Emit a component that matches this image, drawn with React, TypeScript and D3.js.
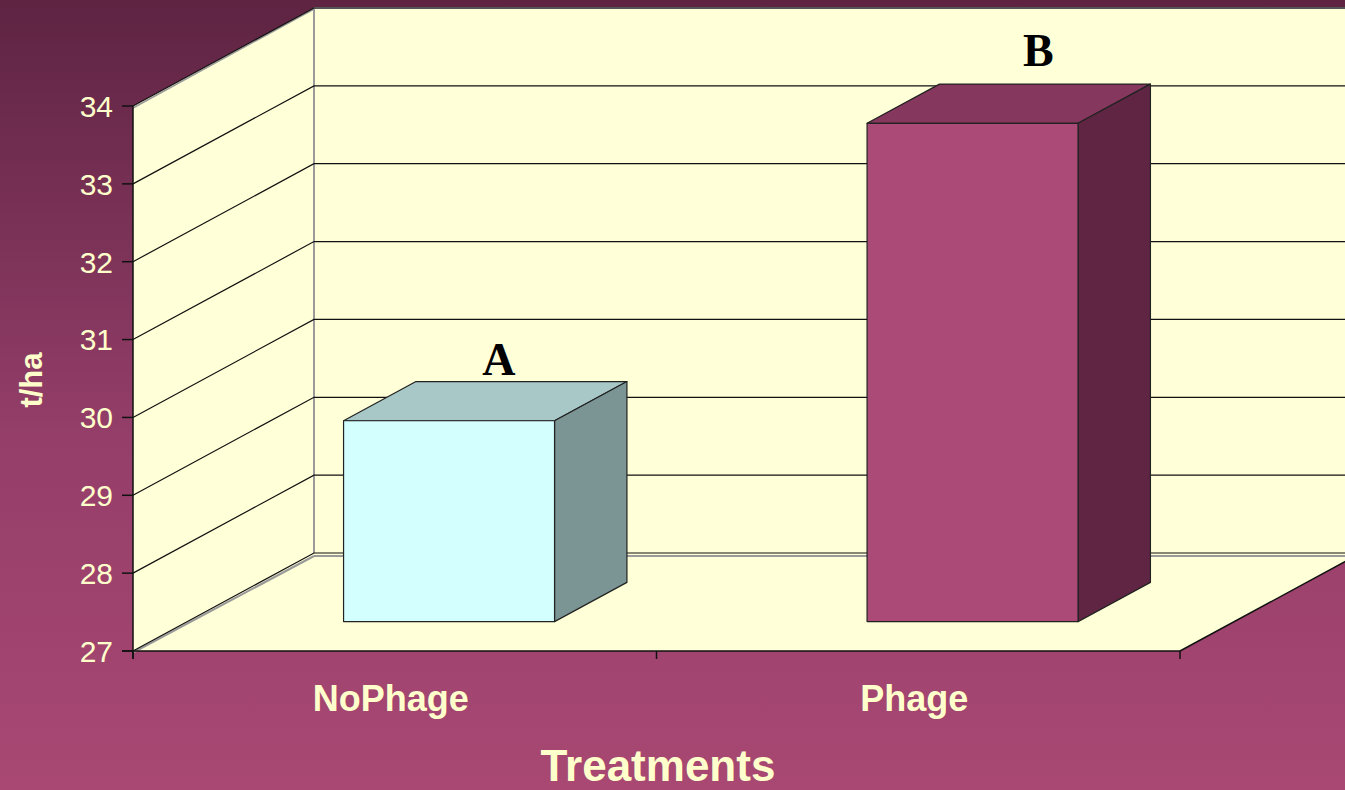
import { useRef, useEffect } from 'react';
import * as d3 from 'd3';

const CATEGORIES = ['NoPhage', 'Phage'];
const VALUES = [29.58, 33.4];
const LETTERS = ['A', 'B'];
const Y_TICKS = [27, 28, 29, 30, 31, 32, 33, 34];

const FRONT = ['#d4ffff', '#ab4a77'];
const TOP = ['#a8c8c8', '#86375e'];
const SIDE = ['#7b9595', '#612544'];

export default function App() {
  const ref = useRef<SVGSVGElement>(null);

  useEffect(() => {
    const svg = ref.current;
    if (!svg) return;
    const W = 1345, H = 790;
    const x0 = 133, x1 = 1180, yBase = 651, yTop = 106;
    const DX = 181, DY = -98; // depth vector
    const z0 = 0.3, z1 = 0.7;

    d3.select(svg).selectAll('*').remove();
    const root = d3.select(svg).attr('width', W).attr('height', H).attr('viewBox', `0 0 ${W} ${H}`);

    const defs = root.append('defs');
    const grad = defs.append('linearGradient').attr('id', 'bg').attr('x1', 0).attr('y1', 0).attr('x2', 0).attr('y2', 1);
    grad.append('stop').attr('offset', '0%').attr('stop-color', '#5e2442');
    grad.append('stop').attr('offset', '55%').attr('stop-color', '#943e69');
    grad.append('stop').attr('offset', '100%').attr('stop-color', '#a84873');

    root.append('rect').attr('width', W).attr('height', H).attr('fill', 'url(#bg)');
    const g = root.append('g');

    const y = d3.scaleLinear().domain([27, 34]).range([yBase, yTop]);
    const x = d3.scaleBand().domain(CATEGORIES).range([x0, x1]);
    const P = (px: number, py: number, z: number) => [px + DX * z, py + DY * z];
    const poly = (pts: number[][]) => 'M' + pts.map((p) => p.join(',')).join('L') + 'Z';
    const wall = '#ffffd8';

    // walls and floor
    g.append('path').attr('d', poly([P(x0, y(27), 0), P(x0, y(34), 0), P(x0, y(34), 1), P(x0, y(27), 1)])).attr('fill', wall);
    g.append('path').attr('d', poly([P(x0, y(27), 1), P(x0, y(34), 1), P(x1, y(34), 1), P(x1, y(27), 1)])).attr('fill', wall);
    g.append('path').attr('d', poly([P(x0, y(27), 0), P(x1, y(27), 0), P(x1, y(27), 1), P(x0, y(27), 1)])).attr('fill', wall);

    // gray wall edges
    const gray = '#9a9a9a';
    const bl = P(x0, y(27), 1), tl = P(x0, y(34), 1), tr = P(x1 + 200, y(34), 1);
    g.append('line').attr('x1', bl[0]).attr('y1', bl[1]).attr('x2', tl[0]).attr('y2', tl[1]).attr('stroke', gray).attr('stroke-width', 2);
    g.append('line').attr('x1', tl[0]).attr('y1', tl[1]).attr('x2', tr[0]).attr('y2', tr[1]).attr('stroke', gray).attr('stroke-width', 2);
    g.append('line').attr('x1', bl[0]).attr('y1', bl[1] + 3).attr('x2', W).attr('y2', bl[1] + 3).attr('stroke', gray).attr('stroke-width', 2);
    g.append('line').attr('x1', x0 + 1).attr('y1', y(27) + 1).attr('x2', bl[0]).attr('y2', bl[1] + 3).attr('stroke', gray).attr('stroke-width', 2);
    g.append('line').attr('x1', x0).attr('y1', y(34) + 2).attr('x2', tl[0]).attr('y2', tl[1] + 1).attr('stroke', gray).attr('stroke-width', 1.5);

    // gridlines + y ticks
    Y_TICKS.forEach((v) => {
      const a = P(x0, y(v), 0), b = P(x0, y(v), 1), c = P(x1 + 200, y(v), 1);
      g.append('path').attr('d', `M${a}L${b}L${c}`).attr('fill', 'none').attr('stroke', '#111').attr('stroke-width', 1.2);
      g.append('line').attr('x1', x0 - 11).attr('y1', y(v)).attr('x2', x0).attr('y2', y(v)).attr('stroke', '#111').attr('stroke-width', 1.5);
      g.append('text').attr('x', x0 - 20).attr('y', y(v)).attr('dy', '0.36em').attr('text-anchor', 'end')
        .attr('font-family', 'Liberation Sans, Arial, sans-serif').attr('font-size', 30).attr('fill', '#ffffcc').text(v);
    });

    // axes
    g.append('line').attr('x1', x0).attr('y1', y(34)).attr('x2', x0).attr('y2', y(27) + 8).attr('stroke', '#111').attr('stroke-width', 1.5);
    g.append('line').attr('x1', x0 - 11).attr('y1', y(27)).attr('x2', x1).attr('y2', y(27)).attr('stroke', '#111').attr('stroke-width', 1.5);
    const fr = P(x1, y(27), 0), br = P(x1, y(27), 1);
    g.append('line').attr('x1', fr[0]).attr('y1', fr[1]).attr('x2', br[0]).attr('y2', br[1]).attr('stroke', '#111').attr('stroke-width', 1.5);
    [...CATEGORIES.map((c) => x(c)!), x1].forEach((t) => {
      g.append('line').attr('x1', t).attr('y1', y(27)).attr('x2', t).attr('y2', y(27) + 8).attr('stroke', '#111').attr('stroke-width', 1.5);
    });

    // bars
    const bw = x.bandwidth() * 0.403;
    CATEGORIES.forEach((c, i) => {
      const cx = x(c)! + x.bandwidth() / 2;
      const l = cx - bw / 2, r = cx + bw / 2;
      const yt = y(VALUES[i]), yb = y(27);
      const stroke = '#222';
      g.append('path').attr('d', poly([P(l, yt, z0), P(r, yt, z0), P(r, yt, z1), P(l, yt, z1)]))
        .attr('fill', TOP[i]).attr('stroke', stroke).attr('stroke-width', 1.2).attr('stroke-linejoin', 'round');
      g.append('path').attr('d', poly([P(r, yb, z0), P(r, yt, z0), P(r, yt, z1), P(r, yb, z1)]))
        .attr('fill', SIDE[i]).attr('stroke', stroke).attr('stroke-width', 1.2).attr('stroke-linejoin', 'round');
      g.append('path').attr('d', poly([P(l, yb, z0), P(l, yt, z0), P(r, yt, z0), P(r, yb, z0)]))
        .attr('fill', FRONT[i]).attr('stroke', stroke).attr('stroke-width', 1.2).attr('stroke-linejoin', 'round');

      // significance letter above the bar
      const ft = P(cx, yt, z0);
      const lift = (VALUES[i] - 27) * 2;
      g.append('text').attr('x', ft[0] + 39 + lift * 2.1).attr('y', ft[1] - 38.6 - lift * 1.44).attr('text-anchor', 'middle')
        .attr('font-family', 'Liberation Serif, Times New Roman, serif').attr('font-weight', 'bold').attr('font-size', 46)
        .attr('fill', '#000').text(LETTERS[i]);

      g.append('text').attr('x', cx - 4).attr('y', 711).attr('text-anchor', 'middle')
        .attr('font-family', 'Liberation Sans, Arial, sans-serif').attr('font-weight', 'bold').attr('font-size', 36)
        .attr('fill', '#ffffcc').text(c);
    });

    g.append('text').attr('x', 658).attr('y', 781).attr('text-anchor', 'middle')
      .attr('font-family', 'Liberation Sans, Arial, sans-serif').attr('font-weight', 'bold').attr('font-size', 44)
      .attr('fill', '#ffffcc').text('Treatments');

    g.append('text').attr('transform', 'translate(42,380) rotate(-90)').attr('text-anchor', 'middle')
      .attr('font-family', 'Liberation Sans, Arial, sans-serif').attr('font-weight', 'bold').attr('font-size', 31)
      .attr('fill', '#ffffcc').text('t/ha');
  }, []);

  return (
    <div style={{ position: 'absolute', left: 0, top: 0, width: 1345, height: 790, overflow: 'hidden' }}>
      <svg ref={ref} style={{ display: 'block' }} />
    </div>
  );
}
